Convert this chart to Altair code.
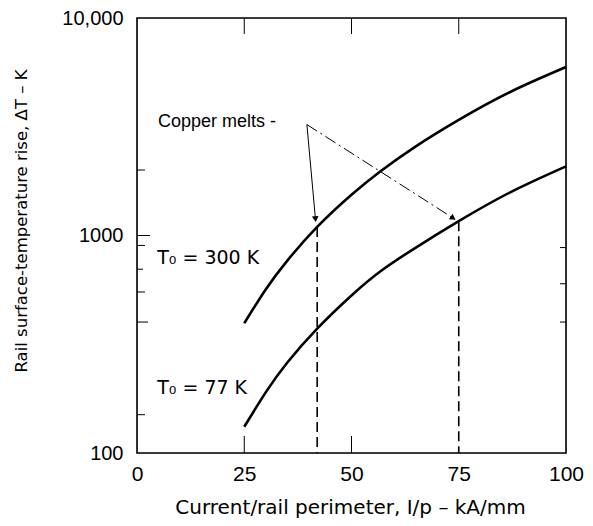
import altair as alt
import pandas as pd

# Curves
x_300 = [25, 30, 35, 42, 50, 57, 65, 75, 87, 100]
y_300 = [395, 565, 765, 1095, 1540, 1990, 2570, 3400, 4570, 5950]
x_77 = [25, 30, 35, 42, 50, 57, 65, 75, 87, 100]
y_77 = [132, 190, 260, 373, 530, 690, 880, 1164, 1580, 2080]

# Copper-melt markers
melt_x = [42, 75]
melt_top = [1095, 1164]

# Arrows from the label
arrow_start = (39.6, 3236)
arrow1_end = (41.6, 1190)
arrow2_end = (73.7, 1202)

# Axis ticks
x_ticks = [0, 25, 50, 75, 100]
y_ticks = [100, 1000, 10000]
left_minor = [150, 400, 550, 700, 900, 1000, 2000]
left_len = [8, 11, 8, 6, 8, 13, 8]
right_minor = [400, 600, 880]
top_minor = [25, 50, 75]
bottom_minor = [25, 50]

x_title = "Current/rail perimeter, I/p – kA/mm"
y_title = "Rail surface-temperature rise, ΔT – K"

W, H = 429, 435
FONT = "Liberation Sans"
FONT2 = "DejaVu Sans"

curves = pd.DataFrame({
    "x": x_300 + x_77,
    "y": y_300 + y_77,
    "s": ["300"] * len(x_300) + ["77"] * len(x_77),
})

xs = alt.Scale(domain=[0, 100], nice=False, zero=False)
ys = alt.Scale(type="log", domain=[100, 10000], nice=False)

AX = alt.Axis(values=x_ticks, title=None, ticks=False, domain=False, grid=False, labelFlush=False,
              labelFont=FONT, labelFontSize=21, labelColor="black", labelPadding=10)
AY = alt.Axis(values=y_ticks, title=None, ticks=False, domain=False, grid=False, labelFlush=False,
              labelFont=FONT, labelFontSize=20, labelColor="black", labelPadding=14,
              labelExpr="datum.value == 10000 ? '10,000' : format(datum.value, 'd')")


def X(field="x"):
    return alt.X(f"{field}:Q", scale=xs, axis=AX)


def Y(field="y"):
    return alt.Y(f"{field}:Q", scale=ys, axis=AY)


lines = alt.Chart(curves).mark_line(color="black", strokeWidth=2.6, interpolate="natural").encode(
    x=X(), y=Y(), detail="s:N")

melt = pd.DataFrame({"x": melt_x, "y": melt_top, "bottom": [100, 100]})
dashes = alt.Chart(melt).mark_rule(color="black", strokeWidth=1.6, strokeDash=[10, 5]).encode(
    x=X(), y=Y(), y2="bottom:Q")

a1 = pd.DataFrame({"x": [arrow_start[0], arrow1_end[0]], "y": [arrow_start[1], arrow1_end[1]]})
a2 = pd.DataFrame({"x": [arrow_start[0], arrow2_end[0]], "y": [arrow_start[1], arrow2_end[1]]})
arrow1 = alt.Chart(a1).mark_line(color="black", strokeWidth=1).encode(x=X(), y=Y())
arrow2 = alt.Chart(a2).mark_line(color="black", strokeWidth=1, strokeDash=[12, 4, 2, 4]).encode(
    x=X(), y=Y())
heads = pd.DataFrame({"x": [arrow1_end[0], arrow2_end[0]], "y": [arrow1_end[1], arrow2_end[1]],
                      "a": [355, 303]})
heads_m = alt.Chart(heads).mark_point(shape="triangle-down", filled=True, color="black",
                                      size=45, opacity=1).encode(
    x=X(), y=Y(), angle=alt.Angle("a:Q", scale=None))

labels = pd.DataFrame({"x": [4.9], "y": [3340], "t": ["Copper melts -"]})
texts = alt.Chart(labels).mark_text(align="left", baseline="middle", font=FONT,
                                    fontSize=18, color="black").encode(
    x=X(), y=Y(), text="t:N")
tlabels = pd.DataFrame({"x": [4.7, 4.7], "y": [789, 198], "t": ["T₀ = 300 K", "T₀ = 77 K"]})
ttexts = alt.Chart(tlabels).mark_text(align="left", baseline="middle", font=FONT2,
                                      fontSize=19, color="black").encode(
    x=X(), y=Y(), text="t:N")

xt = alt.Chart(pd.DataFrame({"t": [x_title]})).mark_text(
    font=FONT2, fontSize=20, color="black", align="center", baseline="middle").encode(
    x=alt.value(W / 2 - 1), y=alt.value(H + 55), text="t:N")
yt = alt.Chart(pd.DataFrame({"t": [y_title]})).mark_text(
    font=FONT2, fontSize=16.5, color="black", align="center", baseline="middle", angle=270).encode(
    x=alt.value(-115), y=alt.value(203), text="t:N")

frame = alt.Chart(pd.DataFrame({"k": [0]})).mark_rect(
    fill=None, stroke="black", strokeWidth=1.6).encode(
    x=alt.value(0), x2=alt.value(W), y=alt.value(0), y2=alt.value(H))

layers = [lines, dashes, arrow1, arrow2, heads_m, texts, ttexts, xt, yt, frame]
for v, ln in zip(left_minor, left_len):
    layers.append(alt.Chart(pd.DataFrame({"y": [v]})).mark_rule(color="black", strokeWidth=1).encode(
        y=Y(), x=alt.value(0), x2=alt.value(ln)))
layers.append(alt.Chart(pd.DataFrame({"y": right_minor})).mark_rule(color="black", strokeWidth=1).encode(
    y=Y(), x=alt.value(W), x2=alt.value(W - 6)))
layers.append(alt.Chart(pd.DataFrame({"x": top_minor})).mark_rule(color="black", strokeWidth=1).encode(
    x=X(), y=alt.value(0), y2=alt.value(16)))
layers.append(alt.Chart(pd.DataFrame({"x": bottom_minor})).mark_rule(color="black", strokeWidth=1).encode(
    x=X(), y=alt.value(H), y2=alt.value(H - 17)))

chart = alt.layer(*layers).properties(
    width=W, height=H,
    autosize=alt.AutoSizeParams(type="none"),
    padding={"left": 129, "top": 10, "right": 19, "bottom": 65},
).configure_view(stroke=None).configure(background="white")

chart.save("out.html", embed_options={"renderer": "svg", "actions": False})
